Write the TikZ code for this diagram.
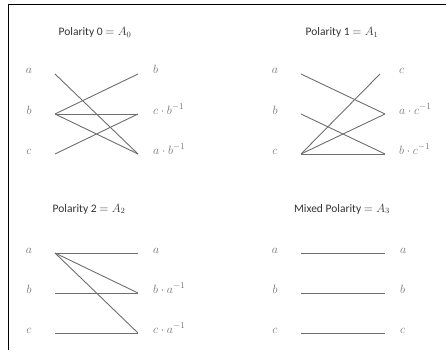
\documentclass[tikz,border=0pt]{standalone}
\usepackage{fontspec}
\setmainfont{Carlito}
\usepackage{tikz}
\definecolor{cline}{HTML}{6E6E6E}
\definecolor{clbl}{HTML}{747474}
\definecolor{ctitle}{HTML}{333333}

\begin{document}
\begin{tikzpicture}[
    x=1pt, y=-1pt,
    wire/.style={line width=0.9pt, draw=cline},
    lbl/.style={font=\fontsize{12.5}{14}\selectfont, text=clbl, inner sep=0pt, anchor=base},
    rlbl/.style={lbl, anchor=base west},
    ttl/.style={font=\fontsize{11.5}{14}\selectfont, text=ctitle, inner sep=0pt, anchor=base},
  ]
  % fixed canvas, same size as the screenshot
  \path[use as bounding box] (0,0) rectangle (446,350);
  \draw[line width=1pt, black] (8,350) -- (8,4.5) -- (446,4.5);
  % == panel 0
  \node[ttl] (t0) at (95,36) {Polarity 0 $=A_0$};
  \node[lbl] (l0a) at (29,74) {$a$};
  \node[lbl] (l0b) at (29,114) {$b$};
  \node[lbl] (l0c) at (29,154) {$c$};
  \node[rlbl] (r0a) at (153,74) {$b$};
  \node[rlbl] (r0b) at (153,114) {$c\cdot b^{-1}$};
  \node[rlbl] (r0c) at (153,154) {$a\cdot b^{-1}$};
  \coordinate (p0a) at (55,74);
  \coordinate (p0b) at (55,114);
  \coordinate (p0c) at (55,154);
  \coordinate (q0a) at (138,74);
  \coordinate (q0b) at (138,114);
  \coordinate (q0c) at (138,154);
  \draw[wire] (p0a) -- (q0c);
  \draw[wire] (p0b) -- (q0a);
  \draw[wire] (p0b) -- (q0b);
  \draw[wire] (p0b) -- (q0c);
  \draw[wire] (p0c) -- (q0b);
  % == panel 1
  \node[ttl] (t1) at (342,36) {Polarity 1 $=A_1$};
  \node[lbl] (l1a) at (275,74) {$a$};
  \node[lbl] (l1b) at (275,114) {$b$};
  \node[lbl] (l1c) at (275,154) {$c$};
  \node[rlbl] (r1a) at (399,74) {$c$};
  \node[rlbl] (r1b) at (399,114) {$a\cdot c^{-1}$};
  \node[rlbl] (r1c) at (399,154) {$b\cdot c^{-1}$};
  \coordinate (p1a) at (301,74);
  \coordinate (p1b) at (301,114);
  \coordinate (p1c) at (301,154);
  \coordinate (q1a) at (380,74);
  \coordinate (q1b) at (385,114);
  \coordinate (q1c) at (385,154);
  \draw[wire] (p1a) -- (q1b);
  \draw[wire] (p1b) -- (q1c);
  \draw[wire] (p1c) -- (q1a);
  \draw[wire] (p1c) -- (q1b);
  \draw[wire] (p1c) -- (q1c);
  % == panel 2
  \node[ttl] (t2) at (89,212) {Polarity 2 $=A_2$};
  \node[lbl] (l2a) at (29,253) {$a$};
  \node[lbl] (l2b) at (29,293) {$b$};
  \node[lbl] (l2c) at (29,333) {$c$};
  \node[rlbl] (r2a) at (153,253) {$a$};
  \node[rlbl] (r2b) at (153,293) {$b\cdot a^{-1}$};
  \node[rlbl] (r2c) at (153,333) {$c\cdot a^{-1}$};
  \coordinate (p2a) at (55,253);
  \coordinate (p2b) at (55,293);
  \coordinate (p2c) at (55,333);
  \coordinate (q2a) at (138,253);
  \coordinate (q2b) at (138,293);
  \coordinate (q2c) at (138,333);
  \draw[wire] (p2a) -- (q2a);
  \draw[wire] (p2a) -- (q2b);
  \draw[wire] (p2a) -- (q2c);
  \draw[wire] (p2b) -- (q2b);
  \draw[wire] (p2c) -- (q2c);
  % == panel 3
  \node[ttl] (t3) at (342,212) {Mixed Polarity $=A_3$};
  \node[lbl] (l3a) at (275,253) {$a$};
  \node[lbl] (l3b) at (275,293) {$b$};
  \node[lbl] (l3c) at (275,333) {$c$};
  \node[rlbl] (r3a) at (400,253) {$a$};
  \node[rlbl] (r3b) at (400,293) {$b$};
  \node[rlbl] (r3c) at (400,333) {$c$};
  \coordinate (p3a) at (301,253);
  \coordinate (p3b) at (301,293);
  \coordinate (p3c) at (301,333);
  \coordinate (q3a) at (385,253);
  \coordinate (q3b) at (385,293);
  \coordinate (q3c) at (385,333);
  \draw[wire] (p3a) -- (q3a);
  \draw[wire] (p3b) -- (q3b);
  \draw[wire] (p3c) -- (q3c);
\end{tikzpicture}
\end{document}
